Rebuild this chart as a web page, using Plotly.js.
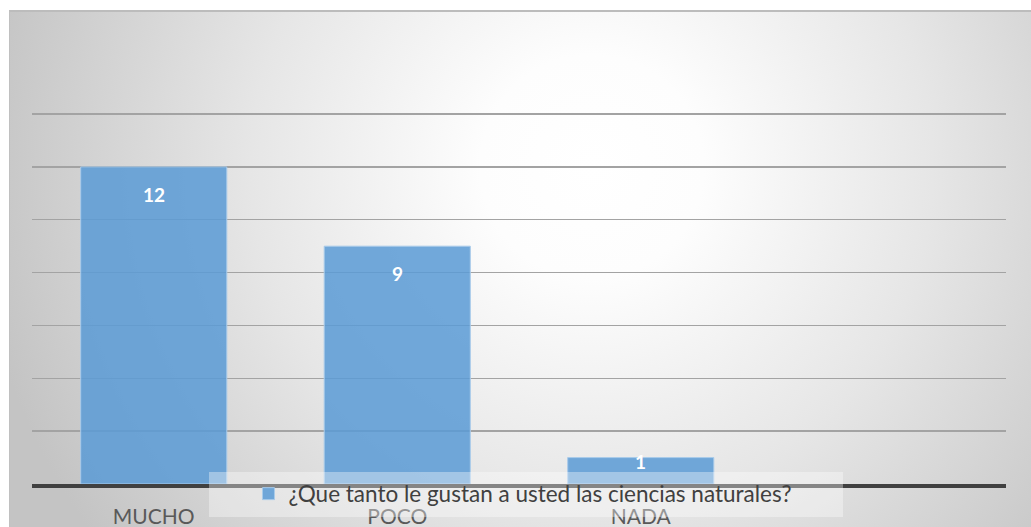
<!DOCTYPE html>
<html>
<head>
<meta charset="utf-8">
<script src="https://cdn.plot.ly/plotly-3.0.1.min.js"></script>
<style>
  html, body { margin: 0; padding: 0; background: #ffffff; }
  #wrap { position: relative; width: 1031px; height: 527px; overflow: hidden; }
  #bg {
    position: absolute; left: 9px; top: 10px; width: 1022px; height: 517px;
    border-top: 2px solid #bcbcbc; border-left: 1px solid #c0c0c0; box-sizing: border-box;
    background: radial-gradient(circle 620px at 57% 30%, #ffffff 0%, #fdfdfd 18%, #e6e6e6 55%, #c4c4c4 100%);
  }
  #chart { position: absolute; left: 0; top: 0; width: 1031px; height: 527px; }
</style>
</head>
<body>
<div id="wrap">
  <div id="bg"></div>
  <div id="chart"></div>
</div>
<script>
// ---- data ----
const categories = ["MUCHO", "POCO", "NADA"];
const values = [12, 9, 1];
const seriesName = "¿Que tanto le gustan a usted las ciencias naturales?";
const yTicks = [0, 2, 4, 6, 8, 10, 12, 14];

// ---- layout constants ----
const W = 1031, H = 527;
const M = { l: 32, r: 25, t: 113, b: 43, autoexpand: false };
const yMax = 14.04;
const pxPerUnit = (H - M.t - M.b) / yMax;

const trace = {
  type: "bar",
  x: categories,
  y: values,
  name: seriesName,
  marker: { color: "rgba(91,155,213,0.86)", line: { color: "#a9cbea", width: 1 } },
  hoverinfo: "none",
  showlegend: true
};

const annotations = categories.map((c, i) => ({
  x: c, y: values[i], xref: "x", yref: "y",
  text: String(values[i]),
  showarrow: false,
  yanchor: "middle",
  yshift: values[i] * pxPerUnit > 40 ? -27.5 : -4,
  font: { family: "Lato, 'Open Sans', sans-serif", size: 19, color: "#ffffff", weight: 700 }
}));

const layout = {
  width: W, height: H,
  margin: M,
  paper_bgcolor: "rgba(0,0,0,0)",
  plot_bgcolor: "rgba(0,0,0,0)",
  bargap: 0.4,
  xaxis: {
    type: "category",
    categoryorder: "array",
    categoryarray: categories,
    range: [-0.5, 3.5],
    showgrid: false,
    zeroline: false,
    showline: true,
    linecolor: "#404040",
    linewidth: 3.5,
    ticks: "",
    ticklabelstandoff: 11,
    tickfont: { family: "Lato, sans-serif", size: 21, color: "#595959" },
    fixedrange: true
  },
  yaxis: {
    range: [0, yMax],
    tickvals: yTicks,
    showticklabels: false,
    showgrid: true,
    gridcolor: "#a3a3a3",
    gridwidth: 1.4,
    zeroline: false,
    showline: false,
    ticks: "",
    fixedrange: true
  },
  showlegend: true,
  legend: {
    orientation: "h",
    xref: "container", yref: "container",
    x: 0.241, xanchor: "left",
    y: 1 - 494 / H, yanchor: "middle",
    bgcolor: "rgba(0,0,0,0)",
    borderwidth: 0,
    font: { family: "Lato, sans-serif", size: 22.5, color: "#404040" }
  },
  shapes: [{
    type: "rect", xref: "paper", yref: "paper", layer: "above",
    x0: (209 - M.l) / (W - M.l - M.r), x1: (843 - M.l) / (W - M.l - M.r),
    y0: -(517 - (H - M.b)) / (H - M.t - M.b), y1: ((H - M.b) - 472) / (H - M.t - M.b),
    fillcolor: "rgba(255,255,255,0.36)", line: { width: 0 }
  }],
  annotations: annotations
};

Plotly.newPlot("chart", [trace], layout, { displayModeBar: false, staticPlot: true });
</script>
</body>
</html>
